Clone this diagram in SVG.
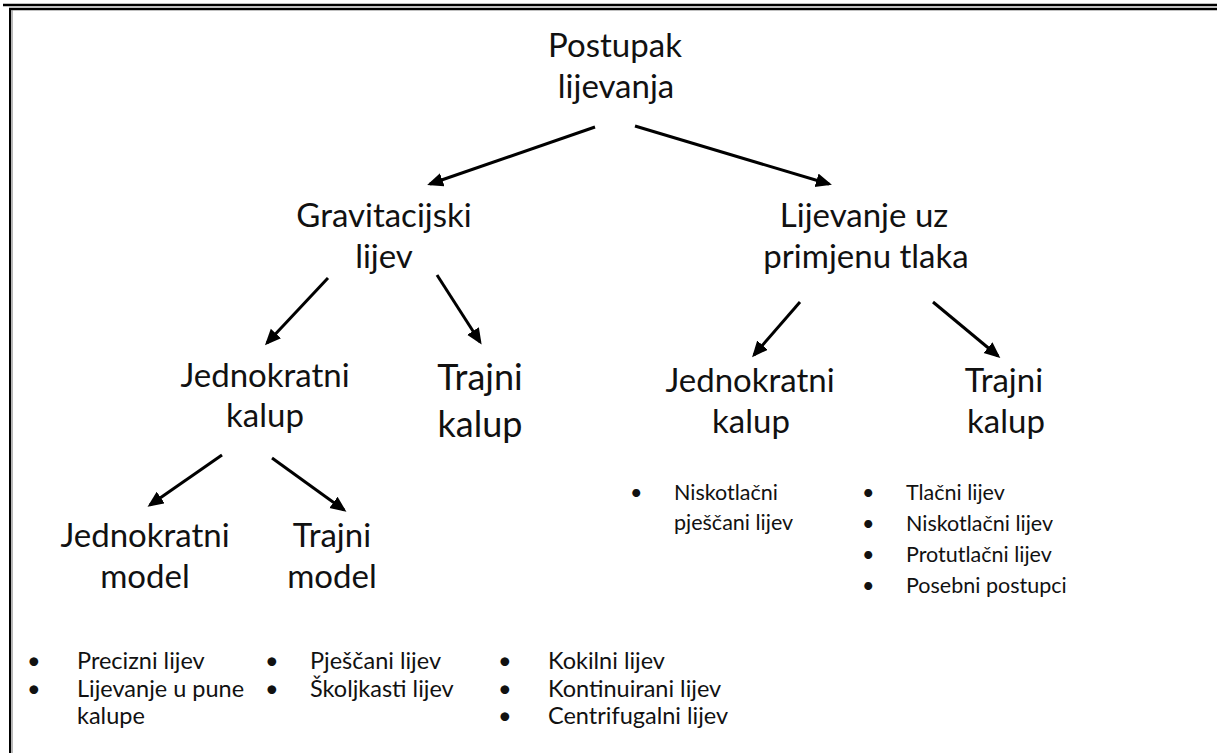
<svg xmlns="http://www.w3.org/2000/svg" width="1217" height="753" viewBox="0 0 1217 753">
<style>
text{font-family:Lato,"Liberation Sans",sans-serif;fill:#111}
.h{font-size:33px;text-anchor:middle}
.hb{font-size:36px;text-anchor:middle}
.l{font-size:21.5px}
.b{font-size:23.5px}
.arr{stroke:#000;stroke-width:3;fill:none;marker-end:url(#ah)}
</style>
<defs>
<marker id="ah" markerUnits="userSpaceOnUse" markerWidth="17" markerHeight="15" refX="13" refY="7" orient="auto">
<path d="M0,0 L16,7 L0,14 z" fill="#000"/>
</marker>
</defs>
<rect width="1217" height="753" fill="#fff"/>
<g id="border">
<line x1="3" y1="5" x2="1217" y2="5" stroke="#000" stroke-width="2.5"/>
<line x1="9" y1="9" x2="1217" y2="9" stroke="#000" stroke-width="2.5"/>
<line x1="10" y1="8" x2="10" y2="753" stroke="#000" stroke-width="2"/>
<line x1="12" y1="10" x2="12" y2="753" stroke="#888" stroke-width="1.2"/>
</g>
<g id="connectors">
<line class="arr" x1="595" y1="127" x2="430" y2="184"/>
<line class="arr" x1="635" y1="126" x2="829" y2="184"/>
<line class="arr" x1="328" y1="278" x2="267" y2="343"/>
<line class="arr" x1="437" y1="275" x2="480" y2="342"/>
<line class="arr" x1="222" y1="455" x2="150" y2="505"/>
<line class="arr" x1="272" y1="458" x2="344" y2="510"/>
<line class="arr" x1="800" y1="302" x2="754" y2="355"/>
<line class="arr" x1="933" y1="302" x2="998" y2="356"/>
</g>
<g id="root"><text class="h" x="615" y="57">Postupak</text><text class="h" x="616" y="98">lijevanja</text></g>
<g id="gravitacijski"><text class="h" x="384" y="227">Gravitacijski</text><text class="h" x="384" y="268">lijev</text></g>
<g id="tlak"><text class="h" x="864" y="227">Lijevanje uz</text><text class="h" x="866" y="268">primjenu tlaka</text></g>
<g id="jednokratni-kalup-l"><text class="h" x="265" y="387">Jednokratni</text><text class="h" x="265" y="427">kalup</text></g>
<g id="trajni-kalup-l"><text class="hb" x="480" y="390">Trajni</text><text class="hb" x="480" y="437">kalup</text></g>
<g id="jednokratni-kalup-r"><text class="h" x="750" y="392">Jednokratni</text><text class="h" x="751" y="433">kalup</text></g>
<g id="trajni-kalup-r"><text class="h" x="1004" y="392">Trajni</text><text class="h" x="1006" y="433">kalup</text></g>
<g id="jednokratni-model"><text class="h" x="145" y="547">Jednokratni</text><text class="h" x="145" y="588">model</text></g>
<g id="trajni-model"><text class="h" x="332" y="547">Trajni</text><text class="h" x="332" y="588">model</text></g>
<g id="list-r1">
<text class="l" x="630" y="500">•</text><text class="l" x="674" y="500">Niskotlačni</text>
<text class="l" x="674" y="530">pješčani lijev</text>
</g>
<g id="list-r2">
<text class="l" x="862" y="500">•</text><text class="l" x="906" y="500">Tlačni lijev</text>
<text class="l" x="862" y="531">•</text><text class="l" x="906" y="531">Niskotlačni lijev</text>
<text class="l" x="862" y="562">•</text><text class="l" x="906" y="562">Protutlačni lijev</text>
<text class="l" x="862" y="593">•</text><text class="l" x="906" y="593">Posebni postupci</text>
</g>
<g id="list-b1">
<text class="b" x="27" y="669">•</text><text class="b" x="77" y="669">Precizni lijev</text>
<text class="b" x="27" y="697">•</text><text class="b" x="77" y="697">Lijevanje u pune</text>
<text class="b" x="77" y="724">kalupe</text>
</g>
<g id="list-b2">
<text class="b" x="265" y="669">•</text><text class="b" x="310" y="669">Pješčani lijev</text>
<text class="b" x="265" y="697">•</text><text class="b" x="310" y="697">Školjkasti lijev</text>
</g>
<g id="list-b3">
<text class="b" x="498" y="669">•</text><text class="b" x="548" y="669">Kokilni lijev</text>
<text class="b" x="498" y="697">•</text><text class="b" x="548" y="697">Kontinuirani lijev</text>
<text class="b" x="498" y="724">•</text><text class="b" x="548" y="724">Centrifugalni lijev</text>
</g>
</svg>
